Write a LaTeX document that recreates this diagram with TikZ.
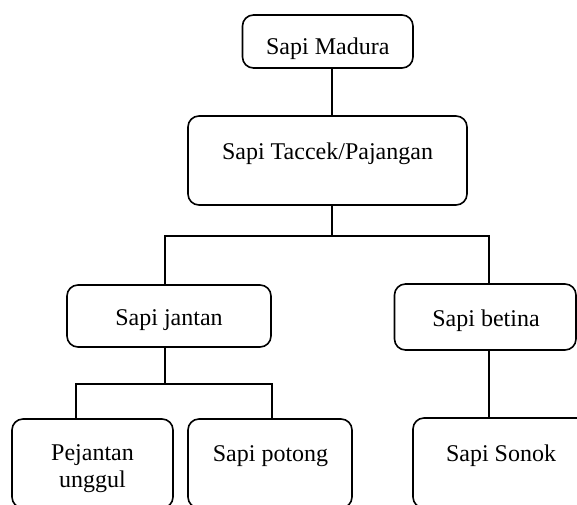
\documentclass[tikz,border=0pt]{standalone}
\usepackage{fontspec}
\setmainfont{Liberation Serif}
\begin{document}
\begin{tikzpicture}[x=1pt,y=-1pt,
  box/.style={draw, line width=1.6pt, rounded corners=11pt, inner sep=0pt, outer sep=0pt},
  lbl/.style={anchor=base, inner sep=0pt, font=\fontsize{24}{27.6}\selectfont},
  conn/.style={line width=1.6pt}]
\useasboundingbox (0,0) rectangle (577,504);
\clip (0,0) rectangle (577,504);
% boxes
\node[box, minimum width=170.5pt, minimum height=53pt] (madura) at (327.75,41.5) {};
\node[box, minimum width=279pt, minimum height=89pt] (taccek) at (327.5,160.5) {};
\node[box, minimum width=204pt, minimum height=62pt] (jantan) at (169,316) {};
\node[box, minimum width=181.5pt, minimum height=66pt] (betina) at (485.25,317) {};
\node[box, minimum width=161pt, minimum height=89pt] (pejantan) at (92.5,463.5) {};
\node[box, minimum width=164pt, minimum height=89pt] (potong) at (270,463.5) {};
\node[box, minimum width=176pt, minimum height=90pt] (sonok) at (501,463) {};
% labels
\node[lbl] (tmadura) at (327.75,54.3) {Sapi Madura};
\node[lbl] (ttaccek) at (327.5,159.3) {Sapi Taccek/Pajangan};
\node[lbl] (tjantan) at (169,325) {Sapi jantan};
\node[lbl] (tbetina) at (486,326) {Sapi betina};
\node[lbl] (tpejantan1) at (92.5,460) {Pejantan};
\node[lbl] (tpejantan2) at (92.5,487.7) {unggul};
\node[lbl] (tpotong) at (270.5,461.7) {Sapi potong};
\node[lbl] (tsonok) at (501,461) {Sapi Sonok};
% connectors
\coordinate (trunk) at (332,236);
\coordinate (jl) at (165,236);
\coordinate (br) at (489,236);
\coordinate (js) at (165,384);
\coordinate (pl) at (75.7,384);
\coordinate (pr) at (271.7,384);
\draw[conn] (trunk |- madura.south) -- (trunk |- taccek.north);
\draw[conn] (trunk |- taccek.south) -- (trunk);
\draw[conn] (jl |- jantan.north) -- (jl) -- (br) -- (br |- betina.north);
\draw[conn] (js |- jantan.south) -- (js);
\draw[conn] (pl |- pejantan.north) -- (pl) -- (pr) -- (pr |- potong.north);
\draw[conn] (br |- betina.south) -- (br |- sonok.north);
\end{tikzpicture}
\end{document}
